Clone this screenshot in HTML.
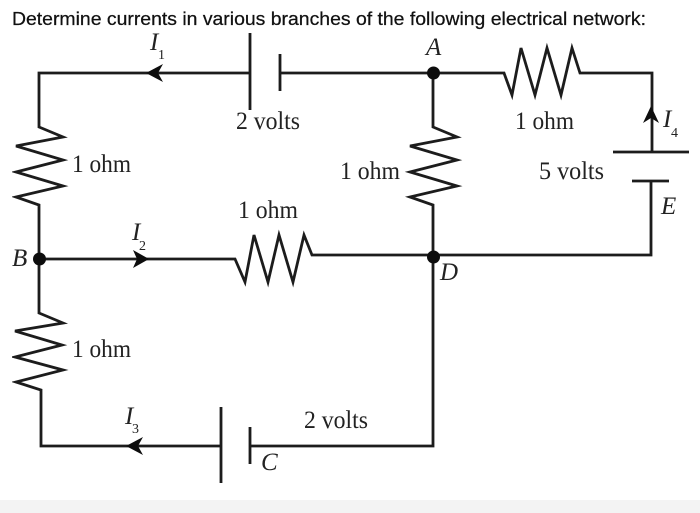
<!DOCTYPE html>
<html><head><meta charset="utf-8"><style>
html,body{margin:0;padding:0;background:#fff}
svg{display:block}
.t{font-family:"Liberation Serif",serif;font-size:25px;fill:#222}
.i{font-family:"Liberation Serif",serif;font-size:25px;font-style:italic;fill:#222}
.s{font-family:"Liberation Serif",serif;font-size:14px;fill:#222}
</style></head><body>
<svg width="700" height="513" viewBox="0 0 700 513" xmlns="http://www.w3.org/2000/svg">
<rect width="700" height="513" fill="#fff"/>
<rect y="500" width="700" height="13" fill="#f3f3f3"/>
<text x="12" y="25" font-family="Liberation Sans,sans-serif" font-size="18.5" fill="#111" stroke="#111" stroke-width="0.25" textLength="634" lengthAdjust="spacingAndGlyphs">Determine currents in various branches of the following electrical network:</text>
<g filter="url(#b)">
<g fill="none" stroke="#1c1c1c" stroke-width="2.8" stroke-linejoin="miter">
<path d="M250 73H39V127L63 137L16 146L63 160L16 172L63 186L16 197L39 205V259"/>
<path d="M250 33V110M280 54V91"/>
<path d="M280 73H504L512 95L521 48L535 95L547 48L561 95L572 48L580 73H652V152"/>
<path d="M613 152H689M632 181H669"/>
<path d="M651 181V255H433"/>
<path d="M433 73V127L457 137L410 146L457 160L410 172L457 186L410 197L433 205V446H250"/>
<path d="M250 427V464M221 407V483"/>
<path d="M221 446H41V390L16 382L63 370L15 357L62 345L15 331L63 323L39 313V259"/>
<path d="M39 259H235L245 282L254 235L268 282L279 235L293 282L304 235L312 255H433"/>
</g>
<g fill="#111">
<circle cx="433.5" cy="73" r="6.5"/>
<circle cx="433.5" cy="257" r="6.5"/>
<circle cx="39.5" cy="259" r="6.5"/>
<path d="M146 73L163 64L158 73L163 82Z"/>
<path d="M149 259L133 250L137 259L133 268Z"/>
<path d="M126 446L143 437L138 446L143 455Z"/>
<path d="M651 106L643 123L651 118L659 123Z"/>
</g>
<g lengthAdjust="spacingAndGlyphs">
<text class="t" x="236" y="129" textLength="64" lengthAdjust="spacingAndGlyphs">2 volts</text>
<text class="t" x="72" y="172" textLength="59" lengthAdjust="spacingAndGlyphs">1 ohm</text>
<text class="t" x="340" y="179" textLength="60" lengthAdjust="spacingAndGlyphs">1 ohm</text>
<text class="t" x="238" y="218" textLength="60" lengthAdjust="spacingAndGlyphs">1 ohm</text>
<text class="t" x="515" y="129" textLength="59" lengthAdjust="spacingAndGlyphs">1 ohm</text>
<text class="t" x="539" y="179" textLength="65" lengthAdjust="spacingAndGlyphs">5 volts</text>
<text class="t" x="72" y="357" textLength="59" lengthAdjust="spacingAndGlyphs">1 ohm</text>
<text class="t" x="304" y="428" textLength="64" lengthAdjust="spacingAndGlyphs">2 volts</text>
</g>
<text class="i" x="150" y="50">I</text><text class="s" x="158" y="59">1</text>
<text class="i" x="132" y="240">I</text><text class="s" x="139" y="250">2</text>
<text class="i" x="125" y="424">I</text><text class="s" x="132" y="433">3</text>
<text class="i" x="663" y="127">I</text><text class="s" x="671" y="137">4</text>
<text class="i" x="426" y="55">A</text>
<text class="i" x="661" y="214">E</text>
<text class="i" x="12" y="266">B</text>
<text class="i" x="440" y="280">D</text>
<text class="i" x="261" y="470">C</text>
</g>
<defs><filter id="b" x="0" y="0" width="100%" height="100%"><feGaussianBlur stdDeviation="0.35"/></filter></defs>
</svg>
</body></html>
